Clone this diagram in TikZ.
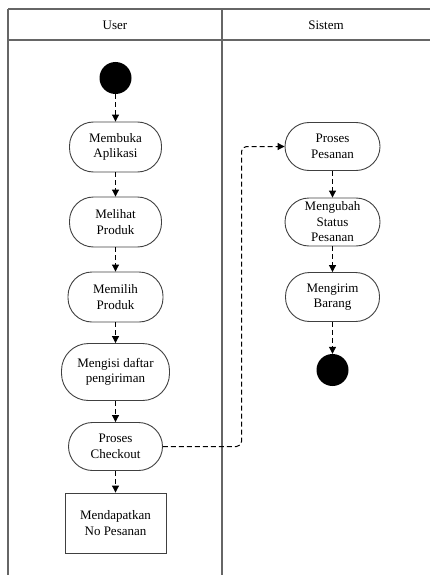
\documentclass[tikz,border=0pt]{standalone}
\usepackage{fontspec}
\setmainfont{Liberation Serif}
\usetikzlibrary{arrows.meta}
\begin{document}
\begin{tikzpicture}[x=1pt,y=-1pt,
  lane/.style={draw=black!60,line width=1.4pt},
  act/.style={draw=black!75,line width=0.9pt,rounded corners=24pt,align=center,
    font=\fontsize{13}{15.5}\selectfont,inner sep=0pt},
  boxact/.style={draw=black!75,line width=0.9pt,align=center,
    font=\fontsize{13}{15.5}\selectfont,inner sep=0pt},
  dot/.style={circle,fill=black,inner sep=0pt,minimum size=32pt},
  flow/.style={draw=black,line width=1pt,dash pattern=on 5pt off 3pt,
    -{Triangle[length=7pt,width=7pt]}},
  head/.style={font=\fontsize{13}{15}\selectfont}]
\useasboundingbox (0,0) rectangle (430,575);
% swimlanes
\draw[lane] (8,9) -- (430,9);
\draw[lane] (8,40) -- (430,40);
\draw[lane] (8,9) -- (8,575);
\draw[lane] (222,9) -- (222,575);
\node[head] (hu) at (115,25) {User};
\node[head] (hs) at (326,25) {Sistem};
% user lane
\node[dot] (start) at (115.5,78) {};
\node[act,minimum width=92pt,minimum height=50pt] (a1) at (115.5,147) {Membuka\\Aplikasi};
\node[act,minimum width=92pt,minimum height=50pt] (a2) at (115.5,222) {Melihat\\Produk};
\node[act,minimum width=95pt,minimum height=50pt] (a3) at (115.5,297) {Memilih\\Produk};
\node[act,minimum width=108pt,minimum height=57pt,rounded corners=27pt] (a4) at (115.5,372) {Mengisi daftar\\pengiriman};
\node[act,minimum width=94pt,minimum height=48pt] (a5) at (115.5,446.5) {Proses\\Checkout};
\node[boxact,minimum width=101pt,minimum height=60pt] (a6) at (115.5,523) {Mendapatkan\\No Pesanan};
% system lane
\node[act,minimum width=95pt,minimum height=48pt] (s1) at (332.5,146.5) {Proses\\Pesanan};
\node[act,minimum width=95pt,minimum height=48pt] (s2) at (332.5,222) {Mengubah\\Status\\Pesanan};
\node[act,minimum width=94pt,minimum height=49pt] (s3) at (332.5,297) {Mengirim\\Barang};
\node[dot] (end) at (332.5,370) {};
\coordinate (c1) at (241.5,446.5);
\coordinate (c2) at (241.5,146.5);
% flows
\draw[flow] (start) -- (a1);
\draw[flow] (a1) -- (a2);
\draw[flow] (a2) -- (a3);
\draw[flow] (a3) -- (a4);
\draw[flow] (a4) -- (a5);
\draw[flow] (a5) -- (a6);
\draw[flow,rounded corners=5pt] (a5.east) -- (c1) -- (c2) -- (s1.west);
\draw[flow] (s1) -- (s2);
\draw[flow] (s2) -- (s3);
\draw[flow] (s3) -- (end);
\end{tikzpicture}
\end{document}
